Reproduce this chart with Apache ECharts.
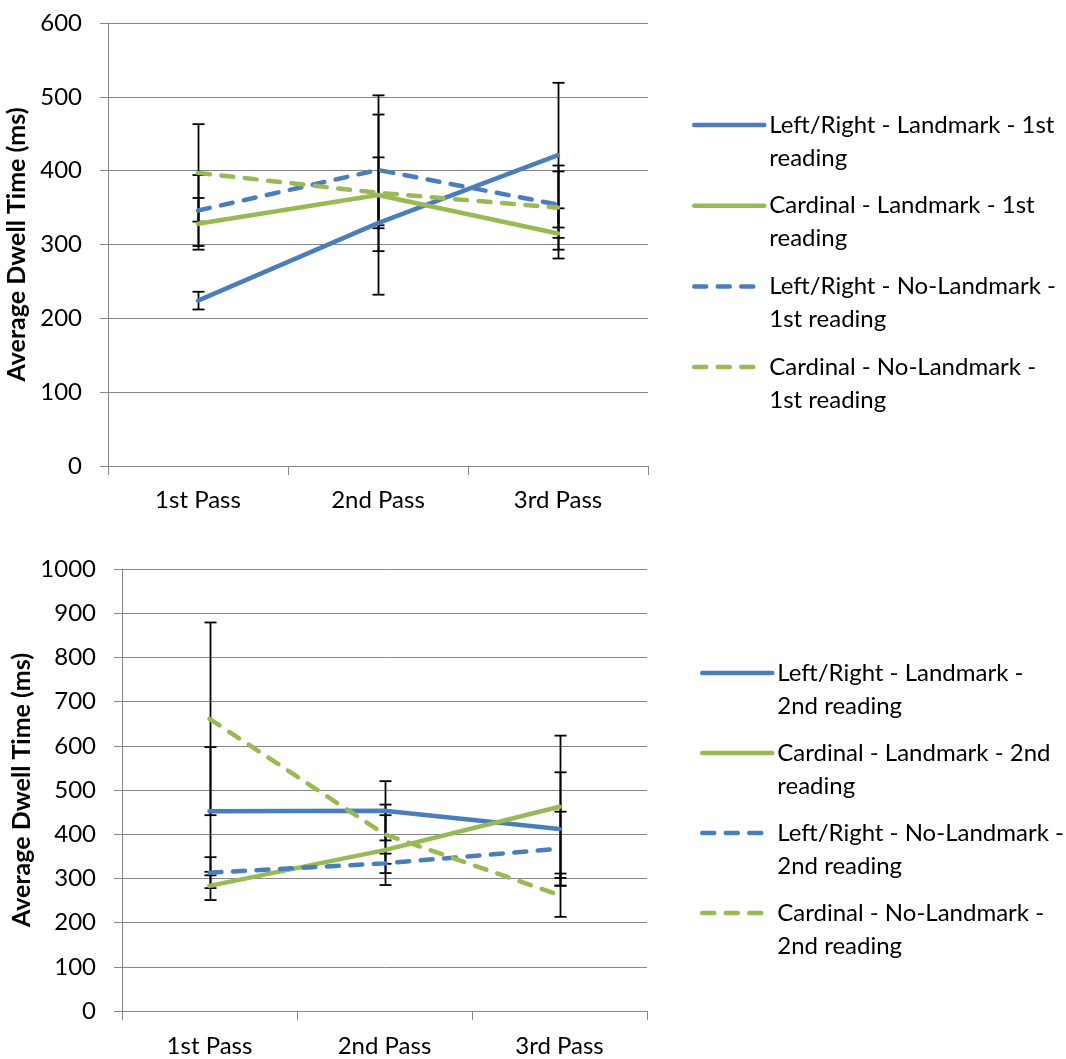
<!DOCTYPE html>
<html>
<head>
<meta charset="utf-8">
<script src="https://cdn.jsdelivr.net/npm/echarts@6/dist/echarts.min.js"></script>
<style>
  html, body { margin: 0; padding: 0; background: #fff; }
  #chart { width: 1066px; height: 1059px; }
</style>
</head>
<body>
<div id="chart"></div>
<script>
// Pass categories shared by both panels
const categories = ['1st Pass', '2nd Pass', '3rd Pass'];

// Panel 1: first reading (mean dwell time, ms) and error half-widths
const names1 = [
  'Left/Right - Landmark - 1st\nreading',
  'Cardinal - Landmark - 1st\nreading',
  'Left/Right - No-Landmark -\n1st reading',
  'Cardinal - No-Landmark -\n1st reading'
];
const lrLandmark1 = [224, 329, 421];
const cardLandmark1 = [328, 367, 315];
const lrNoLandmark1 = [346, 401, 354];
const cardNoLandmark1 = [397, 370, 350];
const lrLandmarkErr1 = [12, 38, 98];
const cardLandmarkErr1 = [35, 135, 34];
const lrNoLandmarkErr1 = [48, 75, 45];
const cardNoLandmarkErr1 = [66, 48, 57];

// Panel 2: second reading
const names2 = [
  'Left/Right - Landmark -\n2nd reading',
  'Cardinal - Landmark - 2nd\nreading',
  'Left/Right - No-Landmark -\n2nd reading',
  'Cardinal - No-Landmark -\n2nd reading'
];
const lrLandmark2 = [452, 453, 412];
const cardLandmark2 = [283, 364, 462];
const lrNoLandmark2 = [313, 334, 367];
const cardNoLandmark2 = [661, 400, 262];
const lrLandmarkErr2 = [145, 67, 128];
const cardLandmarkErr2 = [32, 79, 161];
const lrNoLandmarkErr2 = [35, 22, 84];
const cardNoLandmarkErr2 = [218, 67, 49];

// Y-axis ranges
const yTicks1 = { min: 0, max: 600, interval: 100 };
const yTicks2 = { min: 0, max: 1000, interval: 100 };

const BLUE = '#4A7EBB';
const GREEN = '#98B954';
const AXIS_GRAY = '#868686';
const FONT = 'Lato';
const LINE_W = 4.5;
const DASH = [12, 11.5];

function lineSeries(name, values, color, dashed, idx) {
  return {
    name: name,
    type: 'line',
    xAxisIndex: idx,
    yAxisIndex: idx,
    data: values,
    symbol: 'none',
    z: 3,
    lineStyle: {
      color: color,
      width: LINE_W,
      type: dashed ? DASH : 'solid',
      cap: 'round',
      join: 'round'
    },
    itemStyle: { color: color },
    emphasis: { disabled: true }
  };
}

function errorSeries(values, errs, idx) {
  return {
    type: 'custom',
    xAxisIndex: idx,
    yAxisIndex: idx,
    z: 1,
    silent: true,
    data: values.map((v, i) => [i, v - errs[i], v + errs[i]]),
    encode: { x: 0, y: [1, 2] },
    renderItem: function (params, api) {
      const lo = api.coord([api.value(0), api.value(1)]);
      const hi = api.coord([api.value(0), api.value(2)]);
      const x = Math.round(lo[0]) + 0.5;
      const w = 6;
      const st = { stroke: '#000', lineWidth: 1.8 };
      return {
        type: 'group',
        children: [
          { type: 'line', shape: { x1: x, y1: hi[1], x2: x, y2: lo[1] }, style: st },
          { type: 'line', shape: { x1: x - w, y1: hi[1], x2: x + w, y2: hi[1] }, style: st },
          { type: 'line', shape: { x1: x - w, y1: lo[1], x2: x + w, y2: lo[1] }, style: st }
        ]
      };
    }
  };
}

function xAxis(idx, margin) {
  return {
    type: 'category',
    gridIndex: idx,
    data: categories,
    boundaryGap: true,
    axisLine: { lineStyle: { color: AXIS_GRAY, width: 1 } },
    axisTick: { show: true, length: 9, lineStyle: { color: AXIS_GRAY, width: 1 } },
    axisLabel: { color: '#000', fontFamily: FONT, fontSize: 24, margin: margin },
    splitLine: { show: false }
  };
}

function yAxis(idx, ticks, nameGap) {
  return {
    type: 'value',
    gridIndex: idx,
    min: ticks.min,
    max: ticks.max,
    interval: ticks.interval,
    name: 'Average Dwell Time (ms)',
    nameLocation: 'middle',
    nameGap: nameGap,
    nameTextStyle: { color: '#000', fontFamily: FONT, fontWeight: 'bold', fontSize: 25 },
    axisLine: { show: true, lineStyle: { color: AXIS_GRAY, width: 1 } },
    axisTick: { show: true, length: 8, lineStyle: { color: AXIS_GRAY, width: 1 } },
    axisLabel: {
      color: '#000', fontFamily: FONT, fontSize: 24, margin: 26,
      formatter: v => String(v)
    },
    splitLine: { show: true, lineStyle: { color: AXIS_GRAY, width: 1 } }
  };
}

function legend(names, left, top, itemWidth, gap) {
  return {
    orient: 'vertical',
    left: left,
    top: top,
    padding: 0,
    itemWidth: itemWidth,
    itemHeight: 14,
    itemGap: gap,
    data: names,
    selectedMode: false,
    itemStyle: { opacity: 0 },
    lineStyle: { width: LINE_W, cap: 'round' },
    // leading blank line keeps the swatch level with the first text line
    formatter: n => '\n' + n,
    textStyle: { color: '#000', fontFamily: FONT, fontSize: 24, lineHeight: 33 }
  };
}

const chart = echarts.init(document.getElementById('chart'), null, { renderer: 'canvas' });

chart.setOption({
  backgroundColor: '#fff',
  animation: false,
  grid: [
    { left: 108, top: 23, width: 540, height: 443, outerBoundsMode: 'none', containLabel: false },
    { left: 122, top: 569, width: 525, height: 442, outerBoundsMode: 'none', containLabel: false }
  ],
  xAxis: [xAxis(0, 22), xAxis(1, 23)],
  yAxis: [yAxis(0, yTicks1, 76), yAxis(1, yTicks2, 88)],
  legend: [
    legend(names1, 692, 75.5, 70, -18.3),
    legend(names2, 700, 623.5, 70, -19)
  ],
  series: [
    errorSeries(lrLandmark1, lrLandmarkErr1, 0),
    errorSeries(cardLandmark1, cardLandmarkErr1, 0),
    errorSeries(lrNoLandmark1, lrNoLandmarkErr1, 0),
    errorSeries(cardNoLandmark1, cardNoLandmarkErr1, 0),
    lineSeries(names1[0], lrLandmark1, BLUE, false, 0),
    lineSeries(names1[1], cardLandmark1, GREEN, false, 0),
    lineSeries(names1[2], lrNoLandmark1, BLUE, true, 0),
    lineSeries(names1[3], cardNoLandmark1, GREEN, true, 0),

    errorSeries(lrLandmark2, lrLandmarkErr2, 1),
    errorSeries(cardLandmark2, cardLandmarkErr2, 1),
    errorSeries(lrNoLandmark2, lrNoLandmarkErr2, 1),
    errorSeries(cardNoLandmark2, cardNoLandmarkErr2, 1),
    lineSeries(names2[0], lrLandmark2, BLUE, false, 1),
    lineSeries(names2[1], cardLandmark2, GREEN, false, 1),
    lineSeries(names2[2], lrNoLandmark2, BLUE, true, 1),
    lineSeries(names2[3], cardNoLandmark2, GREEN, true, 1)
  ]
});
</script>
</body>
</html>
